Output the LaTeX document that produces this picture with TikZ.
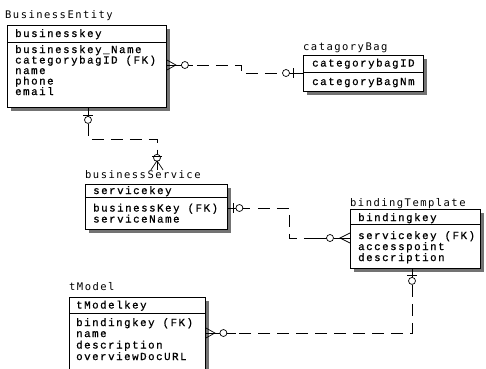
\documentclass[tikz,border=0pt]{standalone}
\usepackage{fontspec}
\newfontfamily\fieldfont[LetterSpace=14,FakeBold=0.8]{Liberation Mono}
\newfontfamily\titlefont[LetterSpace=14]{DejaVu Sans Mono}
\usetikzlibrary{calc,shadows}
\begin{document}
\begin{tikzpicture}[x=1pt,y=-1pt,
  ent/.style={draw, line width=0.9pt, fill=white, anchor=north west, inner sep=0,
    drop shadow={shadow xshift=3.5pt, shadow yshift=-3.5pt, fill=black!55, opacity=1}},
  fld/.style={anchor=base west, inner sep=0, font=\fieldfont\fontsize{10.8}{11}\selectfont},
  ttl/.style={anchor=base west, inner sep=0, font=\titlefont\fontsize{10.5}{11}\selectfont},
  sepline/.style={line width=0.8pt},
  rel/.style={line width=0.7pt, dash pattern=on 12pt off 7pt},
  sym/.style={line width=0.7pt},
]
\clip (0,0) rectangle (486,368);
\fill[white] (0,0) rectangle (486,368);

% ---------- BusinessEntity ----------
\node[ttl] (beT) at (5,18) {BusinessEntity};
\node[ent, minimum width=159pt, minimum height=82pt] (be) at (7,25) {};
\draw[sepline] (be.west |- 0,42) -- (be.east |- 0,42);
\node[fld] (be0) at (15,37) {businesskey};
\node[fld] (be1) at (15,53) {businesskey\_Name};
\node[fld] (be2) at (15,63.5) {categorybagID (FK)};
\node[fld] (be3) at (15,74) {name};
\node[fld] (be4) at (15,84.5) {phone};
\node[fld] (be5) at (15,95) {email};

% ---------- catagoryBag ----------
\node[ttl] (cbT) at (303,50) {catagoryBag};
\node[ent, minimum width=120pt, minimum height=36pt] (cb) at (303,55) {};
\draw[sepline] (cb.west |- 0,72) -- (cb.east |- 0,72);
\node[fld] (cb0) at (312,66.5) {categorybagID};
\node[fld] (cb1) at (312,85) {categoryBagNm};

% ---------- businessService ----------
\node[ttl] (bsT) at (85,178) {businessService};
\node[ent, minimum width=142pt, minimum height=45pt] (bs) at (85,184) {};
\draw[sepline] (bs.west |- 0,197) -- (bs.east |- 0,197);
\node[fld] (bs0) at (93,194) {servicekey};
\node[fld] (bs1) at (93,211.5) {businessKey (FK)};
\node[fld] (bs2) at (93,222.5) {serviceName};

% ---------- bindingTemplate ----------
\node[ttl] (btT) at (350,206) {bindingTemplate};
\node[ent, minimum width=130pt, minimum height=59pt] (bt) at (350,209) {};
\draw[sepline] (bt.west |- 0,224) -- (bt.east |- 0,224);
\node[fld] (bt0) at (358,221) {bindingkey};
\node[fld] (bt1) at (358,239) {servicekey (FK)};
\node[fld] (bt2) at (358,250) {accesspoint};
\node[fld] (bt3) at (358,261) {description};

% ---------- tModel ----------
\node[ttl] (tmT) at (69,290) {tModel};
\node[ent, minimum width=136pt, minimum height=72pt] (tm) at (69,297) {};
\draw[sepline] (tm.west |- 0,313) -- (tm.east |- 0,313);
\node[fld] (tm0) at (76,308.5) {tModelkey};
\node[fld] (tm1) at (76,326) {bindingkey (FK)};
\node[fld] (tm2) at (76,337) {name};
\node[fld] (tm3) at (76,348.5) {description};
\node[fld] (tm4) at (76,360) {overviewDocURL};

% ---------- BusinessEntity -- catagoryBag ----------
\coordinate (r1a) at (be.east |- 0,65);
\coordinate (r1b) at (cb.west |- 0,73);
\draw[sym] (r1a) -- ($(r1a)+(14,0)$);
\draw[sym] ($(r1a)+(0,-5)$) -- ($(r1a)+(9,0)$) -- ($(r1a)+(0,5)$);
\draw[sym, fill=white] ($(r1a)+(18,0)$) circle (3.5);
\draw[sym] ($(r1a)+(21.5,0)$) -- ($(r1a)+(26,0)$);
\draw[rel] ($(r1a)+(30,0)$) -- (241,65) -- (241,73) -- ($(r1b)+(-18,0)$);
\draw[sym] ($(r1b)+(-14,0)$) -- (r1b);
\draw[sym] ($(r1b)+(-10,-5)$) -- ($(r1b)+(-10,5)$);
\draw[sym, fill=white] ($(r1b)+(-17,0)$) circle (3.5);

% ---------- BusinessEntity -- businessService ----------
\coordinate (r2a) at (be.south -| 88,0);
\coordinate (r2b) at (bsT.north -| 157,0);
\draw[sym] (r2a) -- ($(r2a)+(0,10)$);
\draw[sym] ($(r2a)+(-5,7)$) -- ($(r2a)+(5,7)$);
\draw[sym, fill=white] ($(r2a)+(0,12)$) circle (3.5);
\draw[rel] ($(r2a)+(0,16)$) -- (88,139) -- (157,139) -- ($(r2b)+(0,-16)$);
\draw[sym] ($(r2b)+(0,-20)$) -- ($(r2b)+(0,-15.5)$);
\draw[sym, fill=white] ($(r2b)+(0,-12)$) circle (3.5);
\draw[sym] ($(r2b)+(0,-8.5)$) -- (r2b);
\draw[sym] ($(r2b)+(-6,0)$) -- ($(r2b)+(0,-9)$) -- ($(r2b)+(6,0)$);
\draw[sym] ($(r2b)+(-5,-13)$) -- ($(r2b)+(5,-13)$);

% ---------- businessService -- bindingTemplate ----------
\coordinate (r3a) at (bs.east |- 0,208);
\coordinate (r3b) at (bt.west |- 0,238);
\draw[sym] (r3a) -- ($(r3a)+(8,0)$);
\draw[sym] ($(r3a)+(5,-5)$) -- ($(r3a)+(5,5)$);
\draw[sym, fill=white] ($(r3a)+(11.5,0)$) circle (3.5);
\draw[sym] ($(r3a)+(15,0)$) -- ($(r3a)+(22,0)$);
\draw[rel] ($(r3a)+(30,0)$) -- (289,208) -- (289,238) -- ($(r3b)+(-24,0)$);
\draw[sym] ($(r3b)+(-34,0)$) -- ($(r3b)+(-23.5,0)$);
\draw[sym, fill=white] ($(r3b)+(-20,0)$) circle (3.5);
\draw[sym] ($(r3b)+(-16.5,0)$) -- (r3b);
\draw[sym] ($(r3b)+(0,-5)$) -- ($(r3b)+(-10,0)$) -- ($(r3b)+(0,5)$);

% ---------- bindingTemplate -- tModel ----------
\coordinate (r4a) at (bt.south -| 412,0);
\coordinate (r4b) at (tm.east |- 0,333);
\draw[sym] (r4a) -- ($(r4a)+(0,9)$);
\draw[sym] ($(r4a)+(-5,6)$) -- ($(r4a)+(5,6)$);
\draw[sym, fill=white] ($(r4a)+(0,12)$) circle (3.5);
\draw[rel] ($(r4a)+(0,16)$) -- (412,333) -- ($(r4b)+(22,0)$);
\draw[sym] ($(r4b)+(14,0)$) -- (r4b);
\draw[sym] ($(r4b)+(0,-5)$) -- ($(r4b)+(9,0)$) -- ($(r4b)+(0,5)$);
\draw[sym, fill=white] ($(r4b)+(17.5,0)$) circle (3.5);
\draw[sym] ($(r4b)+(21,0)$) -- ($(r4b)+(30,0)$);
\end{tikzpicture}
\end{document}
